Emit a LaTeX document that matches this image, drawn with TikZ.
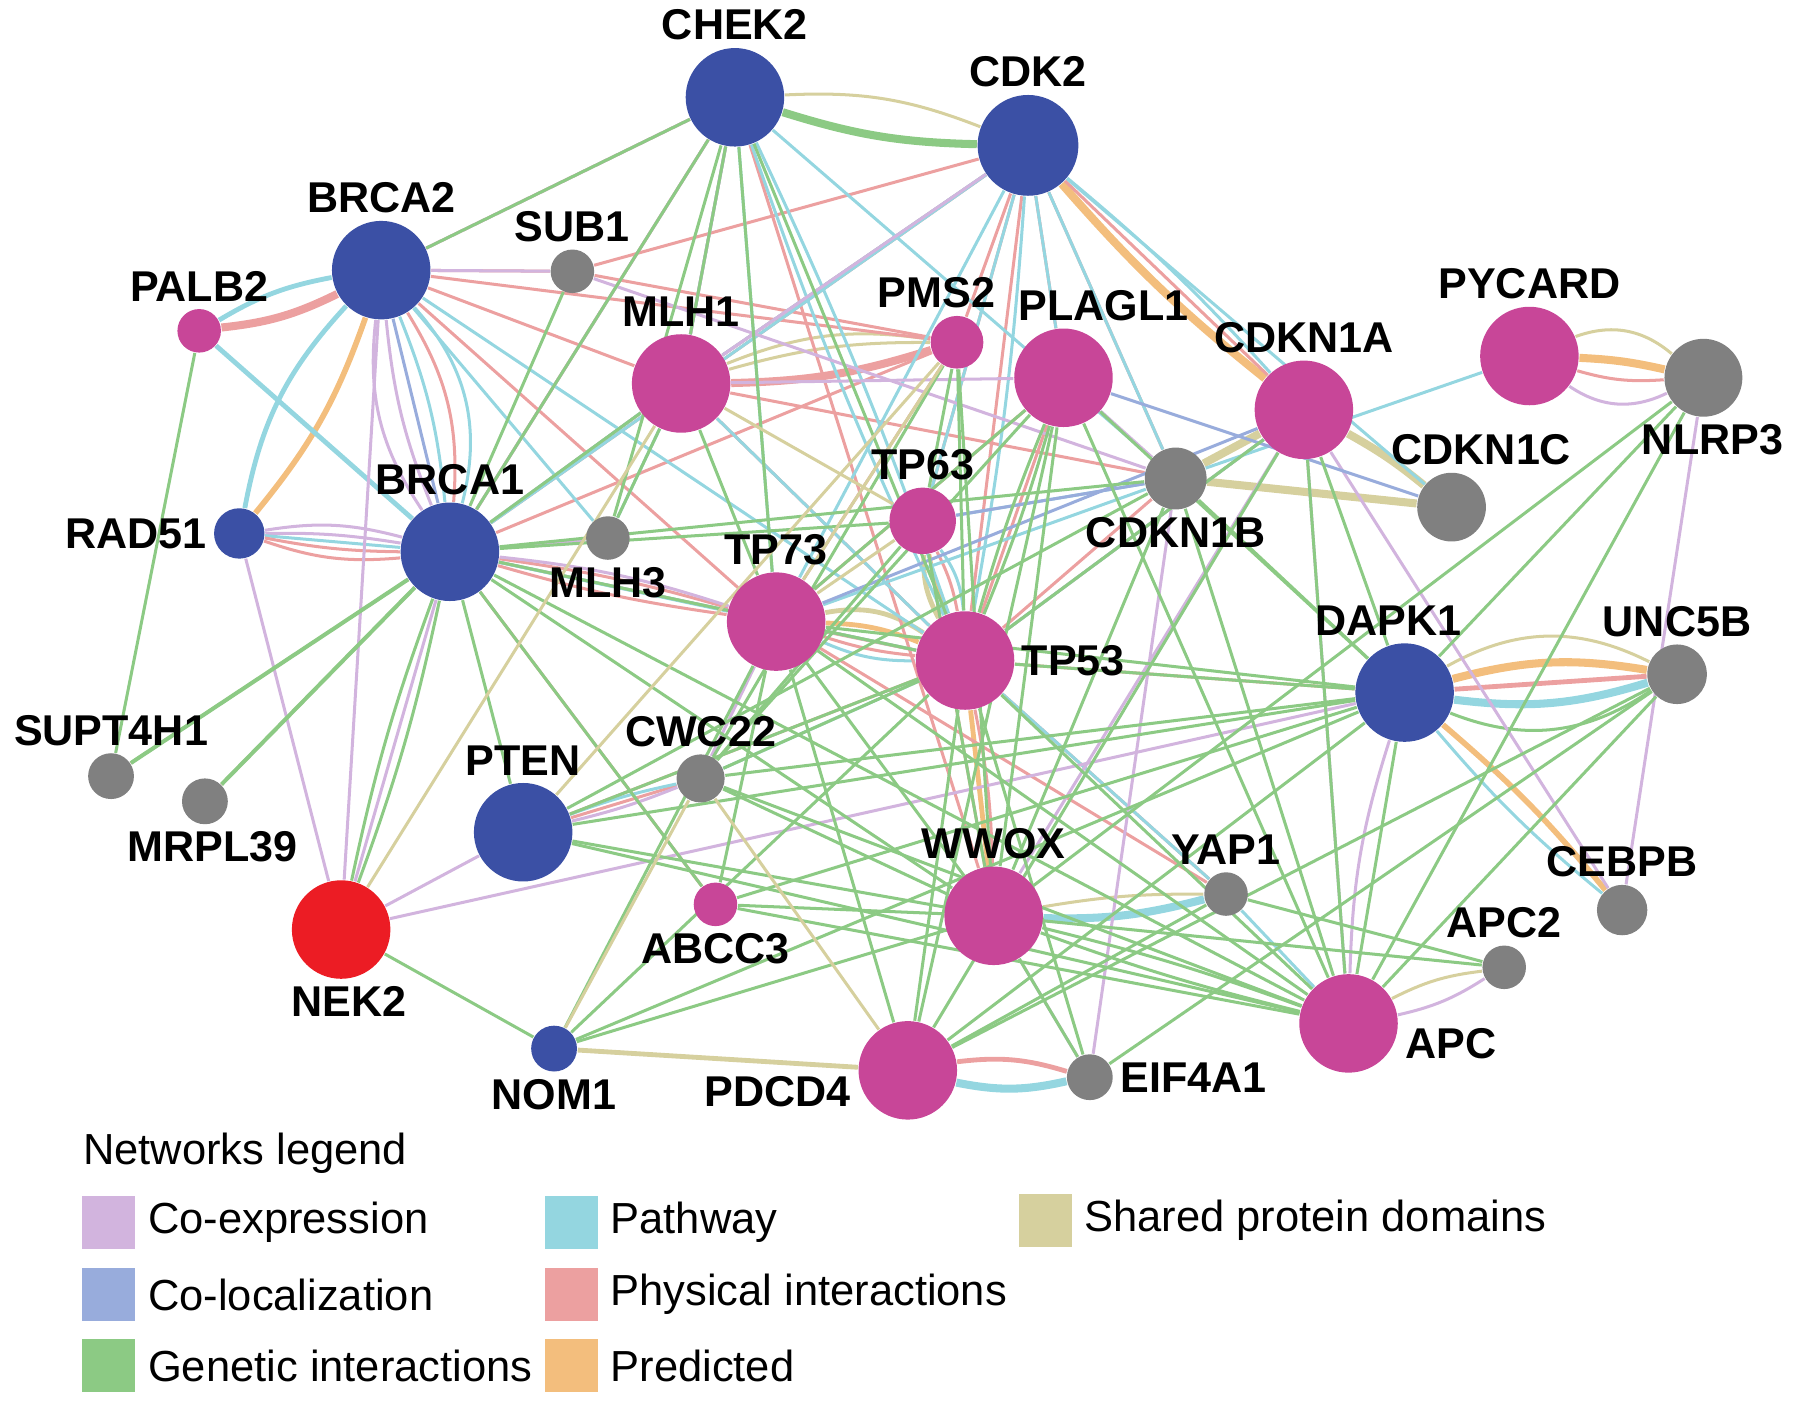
\documentclass[tikz,border=0pt]{standalone}
\usepackage{fontspec}
\setmainfont{Liberation Sans}
\usepackage{xcolor}
\usepackage{tikz}
\usetikzlibrary{positioning,backgrounds}

\definecolor{geneblue}{RGB}{59,80,165}
\definecolor{genemag}{RGB}{200,70,152}
\definecolor{genegray}{RGB}{128,128,128}
\definecolor{genered}{RGB}{236,28,36}
\definecolor{coexpcol}{RGB}{210,180,222}
\definecolor{coloccol}{RGB}{152,172,220}
\definecolor{geneticcol}{RGB}{140,202,132}
\definecolor{pathwaycol}{RGB}{148,214,224}
\definecolor{physcol}{RGB}{236,160,160}
\definecolor{predcol}{RGB}{243,190,125}
\definecolor{sharedcol}{RGB}{214,208,158}

\begin{document}
\begin{tikzpicture}[
    x=0.01cm, y=-0.01cm,
    gene/.style={circle, inner sep=0pt, minimum size=8.6mm},
    bluegene/.style={gene, fill=geneblue},
    maggene/.style={gene, fill=genemag},
    graygene/.style={gene, fill=genegray, minimum size=4mm},
    redgene/.style={gene, fill=genered},
    every label/.style={font=\fontsize{10.7}{12}\selectfont\bfseries, inner sep=1pt},
    label distance=0.5pt,
    coexp/.style={draw=coexpcol, line width=0.75pt},
    coloc/.style={draw=coloccol, line width=0.75pt},
    genetic/.style={draw=geneticcol, line width=0.75pt},
    pathway/.style={draw=pathwaycol, line width=0.75pt},
    physical/.style={draw=physcol, line width=0.75pt},
    predicted/.style={draw=predcol, line width=0.75pt},
    shared/.style={draw=sharedcol, line width=0.75pt},
    fat/.style={line width=2pt},
    swatch/.style={rectangle, inner sep=0pt, minimum width=4.6mm, minimum height=4.6mm},
    legtext/.style={font=\fontsize{10.8}{13}\selectfont, inner sep=0pt}
]
    \useasboundingbox (0,0) rectangle (1568,1228);

    \node[bluegene, label=above:CHEK2] (chek2) at (642,85) {};
    \node[bluegene, minimum size=8.8mm, label=above:CDK2] (cdk2) at (898,127) {};
    \node[bluegene, label=above:BRCA2] (brca2) at (333,236) {};
    \node[graygene, minimum size=3.8mm, label=above:SUB1] (sub1) at (500,237) {};
    \node[maggene, minimum size=3.8mm, label=above:PALB2] (palb2) at (174,289) {};
    \node[maggene, label=above:MLH1] (mlh1) at (595,335) {};
    \node[maggene, minimum size=4.6mm, label={[xshift=-1.8mm]above:PMS2}] (pms2) at (836,299) {};
    \node[maggene, label={[xshift=3.5mm]above:PLAGL1}] (plagl1) at (929,330) {};
    \node[maggene, label=above:CDKN1A] (cdkn1a) at (1139,358) {};
    \node[maggene, label=above:PYCARD] (pycard) at (1336,311) {};
    \node[graygene, minimum size=6.8mm, label={[xshift=0.8mm]below:NLRP3}] (nlrp3) at (1488,330) {};
    \node[graygene, minimum size=6mm, label={[xshift=2.6mm]above:CDKN1C}] (cdkn1c) at (1268,443) {};
    \node[graygene, minimum size=5.4mm, label=below:CDKN1B] (cdkn1b) at (1027,418) {};
    \node[maggene, minimum size=5.8mm, label=above:TP63] (tp63) at (806,455) {};
    \node[bluegene, minimum size=4.4mm, label=left:RAD51] (rad51) at (209,466) {};
    \node[bluegene, label=above:BRCA1] (brca1) at (393,482) {};
    \node[graygene, minimum size=3.8mm, label=below:MLH3] (mlh3) at (531,470) {};
    \node[maggene, label=above:TP73] (tp73) at (678,543) {};
    \node[maggene, label=right:TP53] (tp53) at (843,577) {};
    \node[bluegene, label={[xshift=-1.4mm]above:DAPK1}] (dapk1) at (1227,605) {};
    \node[graygene, minimum size=5.2mm, label=above:UNC5B] (unc5b) at (1465,589) {};
    \node[graygene, label=above:SUPT4H1] (supt4h1) at (97,678) {};
    \node[graygene, label={[xshift=0.7mm]below:MRPL39}] (mrpl39) at (179,700) {};
    \node[graygene, minimum size=4.2mm, label=above:CWC22] (cwc22) at (612,680) {};
    \node[bluegene, label=above:PTEN] (pten) at (457,727) {};
    \node[redgene, label={[xshift=0.7mm]below:NEK2}] (nek2) at (298,812) {};
    \node[maggene, minimum size=3.8mm, label=below:ABCC3] (abcc3) at (625,790) {};
    \node[maggene, label=above:WWOX] (wwox) at (868,800) {};
    \node[graygene, minimum size=3.8mm, label=above:YAP1] (yap1) at (1071,781) {};
    \node[graygene, minimum size=4.4mm, label=above:CEBPB] (cebpb) at (1417,795) {};
    \node[graygene, minimum size=3.8mm, label=above:APC2] (apc2) at (1314,845) {};
    \node[maggene, label={[yshift=-1.8mm]right:APC}] (apc) at (1178,894) {};
    \node[bluegene, minimum size=4mm, label=below:NOM1] (nom1) at (484,916) {};
    \node[maggene, label={[yshift=-1.9mm]left:PDCD4}] (pdcd4) at (793,935) {};
    \node[graygene, label=right:EIF4A1] (eif4a1) at (952,941) {};

    \begin{scope}[on background layer]
    % paired and weighted links
    \draw[genetic, fat] (chek2) to[bend right=8] (cdk2);
    \draw[shared] (chek2) to[bend left=12] (cdk2);
    \draw[physical, fat] (palb2) to[bend right=10] (brca2);
    \draw[pathway, line width=1.2pt] (palb2) to[bend left=10] (brca2);
    \draw[predicted, line width=1.4pt] (brca2) to[bend left=10] (rad51);
    \draw[pathway, line width=1.2pt] (brca2) to[bend right=16] (rad51);
    \draw[coexp] (brca2) to[bend right=20] (brca1);
    \draw[coexp] (brca2) to[bend right=8] (brca1);
    \draw[coloc] (brca2) -- (brca1);
    \draw[pathway] (brca2) to[bend left=8] (brca1);
    \draw[physical] (brca2) to[bend left=18] (brca1);
    \draw[pathway] (brca2) to[bend left=28] (brca1);
    \draw[coexp] (rad51) to[bend left=12] (brca1);
    \draw[coexp] (rad51) to[bend left=5] (brca1);
    \draw[pathway] (rad51) -- (brca1);
    \draw[physical] (rad51) to[bend right=5] (brca1);
    \draw[physical] (rad51) to[bend right=12] (brca1);
    \draw[physical, fat] (mlh1) to[bend right=8] (pms2);
    \draw[shared] (mlh1) to[bend left=8] (pms2);
    \draw[shared] (mlh1) to[bend left=15] (pms2);
    \draw[predicted, fat] (cdk2) to[bend right=5] (cdkn1a);
    \draw[shared, fat] (cdkn1a) -- (cdkn1b);
    \draw[shared, fat] (cdkn1b) -- (cdkn1c);
    \draw[shared, fat] (cdkn1a) to[bend left=5] (cdkn1c);
    \draw[predicted, fat] (pycard) to[bend left=5] (nlrp3);
    \draw[shared] (pycard) to[bend left=30] (nlrp3);
    \draw[physical] (pycard) to[bend right=10] (nlrp3);
    \draw[coexp] (pycard) to[bend right=30] (nlrp3);
    \draw[predicted, fat] (dapk1) to[bend left=12] (unc5b);
    \draw[shared] (dapk1) to[bend left=28] (unc5b);
    \draw[physical, line width=1.2pt] (dapk1) -- (unc5b);
    \draw[pathway, fat] (dapk1) to[bend right=12] (unc5b);
    \draw[genetic] (dapk1) to[bend right=28] (unc5b);
    \draw[predicted, line width=1.4pt] (dapk1) to[bend left=5] (cebpb);
    \draw[pathway] (dapk1) to[bend right=5] (cebpb);
    \draw[pathway, fat] (wwox) to[bend right=8] (yap1);
    \draw[shared] (wwox) to[bend left=5] (yap1);
    \draw[physical, line width=1.2pt] (pdcd4) to[bend left=12] (eif4a1);
    \draw[pathway, fat] (pdcd4) to[bend right=12] (eif4a1);
    \draw[predicted, line width=1.2pt] (tp73) to[bend left=10] (tp53);
    \draw[shared, line width=1.2pt] (tp73) to[bend left=22] (tp53);
    \draw[physical] (tp73) -- (tp53);
    \draw[physical] (tp73) to[bend right=6] (tp53);
    \draw[pathway] (tp73) to[bend right=12] (tp53);
    \draw[shared, line width=1.2pt] (tp63) to[bend right=15] (tp53);
    \draw[predicted] (tp63) to[bend right=5] (tp53);
    \draw[physical] (tp63) to[bend left=8] (tp53);
    \draw[pathway] (tp63) to[bend left=15] (tp53);
    \draw[predicted, line width=1.2pt] (tp53) -- (wwox);
    \draw[physical] (tp53) to[bend left=5] (wwox);
    \draw[shared] (apc) to[bend left=10] (apc2);
    \draw[coexp] (apc) to[bend right=10] (apc2);
    \draw[shared, line width=1.2pt] (nom1) -- (pdcd4);
    % physical interactions
    \draw[physical] (brca2) -- (chek2);
    \draw[physical] (brca2) -- (sub1);
    \draw[physical] (brca2) -- (pms2);
    \draw[physical] (brca2) -- (mlh1);
    \draw[physical] (brca2) -- (tp73);
    \draw[physical] (palb2) -- (brca1);
    \draw[physical] (chek2) -- (brca1);
    \draw[physical] (chek2) -- (mlh1);
    \draw[physical] (chek2) -- (wwox);
    \draw[physical] (cdk2) -- (sub1);
    \draw[physical] (cdk2) -- (mlh1);
    \draw[physical] (cdk2) -- (brca1);
    \draw[physical] (cdk2) -- (tp63);
    \draw[physical] (cdk2) -- (tp53);
    \draw[physical] (cdk2) -- (pms2);
    \draw[physical] (cdk2) -- (plagl1);
    \draw[physical] (cdk2) -- (cdkn1a);
    \draw[physical] (cdk2) -- (cdkn1b);
    \draw[physical] (sub1) -- (pms2);
    \draw[physical] (brca1) to[bend left=4] (tp73);
    \draw[physical] (brca1) to[bend right=4] (tp73);
    \draw[physical] (brca1) -- (tp53);
    \draw[physical] (brca1) -- (abcc3);
    \draw[physical] (brca1) -- (supt4h1);
    \draw[physical] (brca1) -- (mrpl39);
    \draw[physical] (brca1) -- (mlh1);
    \draw[physical] (brca1) -- (pms2);
    \draw[physical] (mlh1) -- (tp53);
    \draw[physical] (mlh1) -- (cdkn1b);
    \draw[physical] (pms2) -- (tp73);
    \draw[physical] (plagl1) -- (tp73);
    \draw[physical] (plagl1) -- (tp53);
    \draw[physical] (tp53) -- (dapk1);
    \draw[physical] (tp53) -- (yap1);
    \draw[physical] (tp73) -- (yap1);
    \draw[physical] (tp53) -- (cdkn1a);
    \draw[physical] (tp53) -- (cdkn1b);
    \draw[physical] (tp63) -- (wwox);
    \draw[physical] (pten) -- (cwc22);
    \draw[physical] (pten) -- (tp53);
    % pathway
    \draw[pathway] (brca2) -- (mlh3);
    \draw[pathway] (brca2) -- (tp53);
    \draw[pathway, line width=1.2pt] (palb2) -- (brca1);
    \draw[pathway] (chek2) -- (tp73);
    \draw[pathway] (chek2) to[bend left=3] (tp53);
    \draw[pathway] (chek2) to[bend right=3] (tp53);
    \draw[pathway] (chek2) -- (mlh1);
    \draw[pathway] (chek2) -- (cdkn1b);
    \draw[pathway] (cdk2) -- (mlh1);
    \draw[pathway] (cdk2) -- (brca1);
    \draw[pathway] (cdk2) -- (tp73);
    \draw[pathway] (cdk2) -- (tp63);
    \draw[pathway] (cdk2) to[bend left=3] (tp53);
    \draw[pathway] (cdk2) -- (plagl1);
    \draw[pathway] (cdk2) to[bend left=4] (cdkn1a);
    \draw[pathway] (cdk2) -- (cdkn1b);
    \draw[pathway] (cdk2) -- (cdkn1c);
    \draw[pathway] (cdkn1b) -- (pycard);
    \draw[pathway] (brca1) -- (tp73);
    \draw[pathway] (brca1) -- (mlh3);
    \draw[pathway] (brca1) -- (tp53);
    \draw[pathway] (brca1) -- (mlh1);
    \draw[pathway] (mlh1) -- (mlh3);
    \draw[pathway] (mlh1) -- (tp53);
    \draw[pathway] (tp73) -- (cdkn1b);
    \draw[pathway] (tp53) -- (cwc22);
    \draw[pathway] (pten) to[bend left=4] (cwc22);
    \draw[pathway] (tp53) -- (yap1);
    \draw[pathway] (yap1) -- (apc);
    \draw[pathway] (cdkn1a) -- (tp53);
    \draw[pathway] (tp63) -- (cdkn1b);
    % co-expression
    \draw[coexp] (brca2) -- (sub1);
    \draw[coexp] (brca2) -- (chek2);
    \draw[coexp] (brca2) -- (nek2);
    \draw[coexp] (chek2) -- (brca1);
    \draw[coexp] (chek2) -- (mlh1);
    \draw[coexp] (cdk2) -- (mlh1);
    \draw[coexp] (rad51) -- (nek2);
    \draw[coexp] (brca1) -- (nek2);
    \draw[coexp] (brca1) to[bend left=6] (tp73);
    \draw[coexp] (brca1) -- (mlh3);
    \draw[coexp] (pten) -- (nek2);
    \draw[coexp] (nek2) -- (dapk1);
    \draw[coexp] (pten) to[bend right=4] (cwc22);
    \draw[coexp] (cwc22) -- (tp73);
    \draw[coexp] (sub1) -- (cdkn1b);
    \draw[coexp] (plagl1) -- (cdkn1b);
    \draw[coexp] (eif4a1) -- (cdkn1b);
    \draw[coexp] (eif4a1) -- (wwox);
    \draw[coexp] (wwox) -- (cdkn1a);
    \draw[coexp] (apc) -- (cdkn1a);
    \draw[coexp] (apc) to[bend left=8] (dapk1);
    \draw[coexp] (cdkn1a) -- (cebpb);
    \draw[coexp] (nlrp3) -- (cebpb);
    \draw[coexp] (mlh1) -- (plagl1);
    % co-localization
    \draw[coloc] (plagl1) -- (cdkn1c);
    \draw[coloc] (tp73) -- (cdkn1a);
    \draw[coloc] (tp63) -- (cdkn1b);
    % genetic interactions
    \draw[genetic] (chek2) -- (brca2);
    \draw[genetic] (chek2) -- (mlh1);
    \draw[genetic] (chek2) -- (brca1);
    \draw[genetic] (chek2) -- (mlh3);
    \draw[genetic] (chek2) -- (tp53);
    \draw[genetic] (chek2) -- (tp73);
    \draw[genetic] (sub1) -- (brca1);
    \draw[genetic] (palb2) -- (supt4h1);
    \draw[genetic, line width=1pt] (brca1) -- (supt4h1);
    \draw[genetic, line width=1pt] (brca1) -- (mrpl39);
    \draw[genetic] (brca1) to[bend left=4] (nek2);
    \draw[genetic] (brca1) to[bend right=4] (nek2);
    \draw[genetic] (brca1) -- (pten);
    \draw[genetic] (brca1) -- (abcc3);
    \draw[genetic] (brca1) -- (wwox);
    \draw[genetic] (brca1) -- (apc);
    \draw[genetic] (brca1) -- (mlh1);
    \draw[genetic] (brca1) -- (tp63);
    \draw[genetic] (brca1) -- (cdkn1b);
    \draw[genetic] (brca1) -- (tp53);
    \draw[genetic] (mlh1) -- (mlh3);
    \draw[genetic] (mlh1) -- (tp73);
    \draw[genetic] (pms2) -- (tp53);
    \draw[genetic] (pms2) -- (tp63);
    \draw[genetic] (pms2) -- (wwox);
    \draw[genetic] (pms2) -- (cwc22);
    \draw[genetic] (plagl1) to[bend left=3] (tp53);
    \draw[genetic] (plagl1) to[bend right=3] (tp53);
    \draw[genetic] (plagl1) -- (wwox);
    \draw[genetic] (plagl1) -- (pdcd4);
    \draw[genetic] (plagl1) -- (apc);
    \draw[genetic] (plagl1) -- (tp73);
    \draw[genetic] (plagl1) -- (cwc22);
    \draw[genetic] (plagl1) -- (dapk1);
    \draw[genetic] (cdkn1a) -- (apc);
    \draw[genetic] (cdkn1a) -- (dapk1);
    \draw[genetic] (cdkn1a) -- (pdcd4);
    \draw[genetic] (cdkn1a) -- (tp53);
    \draw[genetic] (cdkn1b) -- (dapk1);
    \draw[genetic] (cdkn1b) -- (apc);
    \draw[genetic] (cdkn1b) -- (wwox);
    \draw[genetic] (cdkn1b) -- (pten);
    \draw[genetic] (nlrp3) -- (apc);
    \draw[genetic] (nlrp3) -- (dapk1);
    \draw[genetic] (nlrp3) -- (wwox);
    \draw[genetic] (unc5b) -- (apc);
    \draw[genetic] (unc5b) -- (pdcd4);
    \draw[genetic] (unc5b) -- (eif4a1);
    \draw[genetic] (dapk1) -- (tp53);
    \draw[genetic] (dapk1) -- (tp73);
    \draw[genetic] (dapk1) -- (pten);
    \draw[genetic] (dapk1) -- (abcc3);
    \draw[genetic] (dapk1) -- (cwc22);
    \draw[genetic] (dapk1) -- (apc);
    \draw[genetic] (dapk1) -- (pdcd4);
    \draw[genetic] (dapk1) -- (nom1);
    \draw[genetic] (tp53) -- (apc);
    \draw[genetic] (tp53) -- (cwc22);
    \draw[genetic] (tp53) -- (eif4a1);
    \draw[genetic] (tp53) -- (pdcd4);
    \draw[genetic] (tp53) -- (pten);
    \draw[genetic] (tp53) -- (nom1);
    \draw[genetic] (tp73) -- (wwox);
    \draw[genetic] (tp73) -- (apc);
    \draw[genetic] (tp73) -- (nom1);
    \draw[genetic] (tp73) -- (pdcd4);
    \draw[genetic] (tp73) -- (abcc3);
    \draw[genetic] (tp63) -- (wwox);
    \draw[genetic] (tp63) -- (cwc22);
    \draw[genetic] (wwox) -- (pten);
    \draw[genetic] (wwox) -- (abcc3);
    \draw[genetic] (wwox) to[bend left=3] (apc);
    \draw[genetic] (wwox) to[bend right=3] (apc);
    \draw[genetic] (wwox) -- (cwc22);
    \draw[genetic] (wwox) -- (eif4a1);
    \draw[genetic] (wwox) -- (apc2);
    \draw[genetic] (yap1) -- (apc2);
    \draw[genetic] (yap1) -- (pdcd4);
    \draw[genetic] (apc) -- (pten);
    \draw[genetic] (apc) -- (abcc3);
    \draw[genetic] (apc) -- (cwc22);
    \draw[genetic] (nek2) -- (nom1);
    \draw[genetic] (nom1) -- (wwox);
    % shared protein domains
    \draw[shared] (mlh1) -- (tp63);
    \draw[shared] (pms2) -- (tp73);
    \draw[shared] (tp63) -- (tp73);
    \draw[shared] (nom1) -- (cwc22);
    \draw[shared] (cwc22) -- (pdcd4);
    \draw[shared] (nek2) -- (mlh1);
    \draw[shared] (pten) -- (pms2);
    \end{scope}

    \node[legtext, anchor=west] (legtitle) at (72,1007) {Networks legend};
    \node[swatch, fill=coexpcol] (swcoexp) at (95,1068) {};
    \node[swatch, fill=coloccol] (swcoloc) at (95,1131) {};
    \node[swatch, fill=geneticcol] (swgenetic) at (95,1193) {};
    \node[swatch, fill=pathwaycol] (swpathway) at (499,1068) {};
    \node[swatch, fill=physcol] (swphys) at (499,1131) {};
    \node[swatch, fill=predcol] (swpred) at (499,1193) {};
    \node[swatch, fill=sharedcol] (swshared) at (913,1066) {};
    \node[legtext, right=1mm of swcoexp] (txcoexp) {Co-expression};
    \node[legtext, right=1mm of swcoloc] (txcoloc) {Co-localization};
    \node[legtext, right=1mm of swgenetic] (txgenetic) {Genetic interactions};
    \node[legtext, right=1mm of swpathway] (txpathway) {Pathway};
    \node[legtext, right=1mm of swphys] (txphys) {Physical interactions};
    \node[legtext, right=1mm of swpred] (txpred) {Predicted};
    \node[legtext, right=1mm of swshared] (txshared) {Shared protein domains};
\end{tikzpicture}
\end{document}
